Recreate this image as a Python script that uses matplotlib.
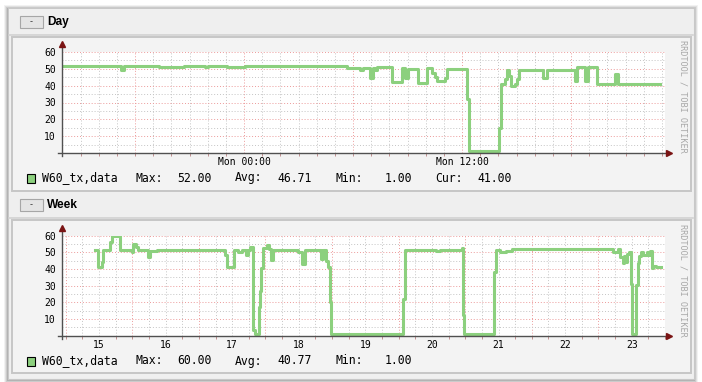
import numpy as np
import matplotlib.pyplot as plt
from matplotlib.patches import Rectangle

# ---- data ----
# Day graph: x in hours relative to Mon 00:00
day_hours = [-10.0, -6.8, -6.6, -4.7, -3.3, -2.15, -2.0, -0.95, 0.05, 5.67,
             6.38, 6.55, 6.93, 7.12, 7.21, 7.32, 8.15, 8.70, 8.86, 9.03,
             9.58, 10.07, 10.35, 10.51, 10.62, 11.06, 11.17, 12.26, 12.36, 14.03,
             14.12, 14.36, 14.47, 14.58, 14.69, 14.91, 15.02, 15.13, 16.46, 16.68,
             18.22, 18.33, 18.77, 18.93, 19.43, 20.42, 20.58, 22.90]
day_values = [51.5, 49.5, 51.5, 51, 51.5, 51, 51.5, 51, 51.5, 50.6,
              49.6, 50.6, 44.7, 50.6, 49.6, 51.2, 42.2, 50.6, 44.7, 50,
              41.8, 50.6, 47.6, 45, 42.5, 44.7, 50, 32, 1, 15,
              41, 44, 49.6, 46, 40, 41, 44, 49.6, 44.3, 49.6,
              43, 51.2, 43, 51.2, 41, 47.2, 41, 41]
day_xlim = (-10.02, 23.17)
day_label_pos = [0, 12]
day_labels = ["Mon 00:00", "Mon 12:00"]

# Week graph: x in day of month
week_days = [15.44, 15.49, 15.54, 15.56, 15.665, 15.69, 15.815, 15.995, 16.01, 16.055,
             16.09, 16.235, 16.265, 16.365, 17.39, 17.42, 17.52, 17.59, 17.65, 17.71,
             17.74, 17.77, 17.81, 17.84, 17.90, 17.92, 17.94, 17.96, 18.02, 18.05,
             18.08, 18.12, 18.49, 18.55, 18.59, 18.83, 18.87, 18.91, 18.94, 18.97,
             18.98, 20.07, 20.09, 20.56, 20.62, 20.95, 20.96, 20.985, 21.435, 21.455,
             21.52, 21.605, 21.70, 23.218, 23.293, 23.323, 23.368, 23.39, 23.413, 23.435,
             23.458, 23.483, 23.498, 23.563, 23.588, 23.613, 23.638, 23.668, 23.723, 23.747,
             23.773, 23.798, 23.818, 23.863, 23.934]
week_values = [51.5, 41, 44.5, 51.5, 56, 60, 51.5, 50, 55, 53,
               51.5, 47.5, 51, 51.5, 48.5, 41, 51.5, 50, 51.5, 48.5,
               51.5, 53.5, 3.5, 1, 17.5, 27, 40.5, 52.5, 54.5, 52,
               45.5, 51.5, 50.5, 43, 51.5, 46, 51.5, 45, 41, 20.5,
               1, 22, 51.5, 51, 51.5, 52.5, 12.5, 1, 38, 51.5,
               50, 51, 51.8, 50.5, 51.8, 47.4, 43.5, 48, 44, 49,
               50, 31, 1, 30.5, 43.5, 48, 50, 48.5, 50, 48.5,
               51, 40.5, 42, 41, 41]
week_xlim = (14.944, 24.0)
week_label_pos = [15.5, 16.5, 17.5, 18.5, 19.5, 20.5, 21.5, 22.5, 23.5]
week_labels = ["15", "16", "17", "18", "19", "20", "21", "22", "23"]

y_ticks = [10, 20, 30, 40, 50, 60]
series_name = "W60_tx,data"
day_stats = [("Max:", "52.00"), ("Avg:", "46.71"), ("Min:", "1.00"), ("Cur:", "41.00")]
week_stats = [("Max:", "60.00"), ("Avg:", "40.77"), ("Min:", "1.00")]

# ---- style ----
W, H = 702, 382
LINE = '#8cd07e'
MONO = 'DejaVu Sans Mono'
GRID_MINOR = '#c4c4c4'
GRID_MAJOR = '#ec9a9a'
AXIS = '#505050'
ARROW = '#7a1414'

fig = plt.figure(figsize=(W / 100, H / 100), dpi=100)
fig.patch.set_facecolor('white')

bg = fig.add_axes([0, 0, 1, 1], zorder=0)
bg.set_xlim(0, W)
bg.set_ylim(H, 0)
bg.axis('off')

# outer panel with soft shadow
for g, a in [(4, 0.05), (3, 0.07), (2, 0.09), (1, 0.12)]:
    bg.add_patch(Rectangle((8 - g, 8 - g + 1), 686 + 2 * g, 371 + 2 * g,
                           fc='#000000', ec='none', alpha=a))
bg.add_patch(Rectangle((8, 8), 686, 371, fc='#f0f0f0', ec='#c8c8c8', lw=0.8))


def header(y0, y1, title):
    bg.add_patch(Rectangle((9, y0), 684, y1 - y0, fc='#efefef', ec='none'))
    bg.plot([9, 693], [y1, y1], color='#d2d2d2', lw=1.2)
    bg.add_patch(Rectangle((20, (y0 + y1) / 2 - 6), 23, 12, fc='#e4e4e4', ec='#a6a6a6', lw=0.8))
    bg.text(31.5, (y0 + y1) / 2, "-", fontsize=6, ha='center', va='center', color='#333333')
    bg.text(47, (y0 + y1) / 2, title, fontsize=8.6, fontweight='bold', family='Liberation Sans',
            ha='left', va='center', color='black')


def graph_box(y0, y1):
    bg.add_patch(Rectangle((12, y0), 679, y1 - y0, fc='#f3f3f3', ec='#c6c6c6', lw=1.4))


header(9, 35, "Day")
graph_box(37, 191)
header(192, 218, "Week")
graph_box(220, 373)


def px_rect(x0, y0, x1, y1):
    return [x0 / W, 1 - y1 / H, (x1 - x0) / W, (y1 - y0) / H]


def draw_graph(rect, xs, ys, xlim, minor_x, major_x, label_pos, labels, wm_y):
    ax = fig.add_axes(rect, zorder=1)
    ax.set_facecolor('white')
    ax.set_xlim(*xlim)
    ax.set_ylim(0, 60)
    for s in ax.spines.values():
        s.set_visible(False)

    for gx in minor_x:
        ax.axvline(gx, color=GRID_MINOR, lw=0.7, ls=(0, (1, 2)), zorder=1)
    for gx in major_x:
        ax.axvline(gx, color=GRID_MAJOR, lw=0.7, ls=(0, (1, 2)), zorder=1)
    for gy in np.arange(5, 60, 10):
        ax.axhline(gy, color=GRID_MINOR, lw=0.7, ls=(0, (1, 2)), zorder=1)
    for gy in np.arange(10, 61, 10):
        ax.axhline(gy, color=GRID_MAJOR, lw=0.7, ls=(0, (1, 2)), zorder=1)

    ax.step(xs, ys, where='post', color=LINE, lw=2.2, zorder=3)

    ax.set_xticks(label_pos)
    ax.set_xticklabels(labels, family=MONO, fontsize=7)
    ax.set_xticks(list(minor_x) + list(major_x), minor=True)
    ax.tick_params(axis='x', which='major', length=0, pad=3)
    ax.tick_params(axis='x', which='minor', length=2.5, color='#c09090', width=0.7)
    ax.set_yticks(y_ticks)
    ax.set_yticklabels([str(v) for v in y_ticks], family=MONO, fontsize=7)
    ax.tick_params(axis='y', length=0, pad=4.3)

    # axes with arrows
    ax.plot([-0.006, 1.006], [0, 0], transform=ax.transAxes, color=AXIS, lw=1, clip_on=False, zorder=4)
    ax.plot([0, 0], [-0.03, 1.07], transform=ax.transAxes, color=AXIS, lw=1, clip_on=False, zorder=4)
    ax.plot([1.006], [0], marker='>', ms=4.5, color=ARROW, transform=ax.transAxes, clip_on=False, zorder=5)
    ax.plot([0], [1.075], marker='^', ms=4.5, color=ARROW, transform=ax.transAxes, clip_on=False, zorder=5)

    bg.text(683, wm_y, "RRDTOOL / TOBI OETIKER", rotation=270, family=MONO, fontsize=6.1,
            color='#a8a8a8', ha='center', va='center')
    return ax


draw_graph(px_rect(62, 52, 665, 153), day_hours, day_values, day_xlim,
           [h for h in range(-9, 24) if h % 6 != 0], [h for h in range(-6, 24, 6)],
           day_label_pos, day_labels, 96)
draw_graph(px_rect(62, 235.7, 665, 335.7), week_days, week_values, week_xlim,
           [d for d in np.arange(15.0, 24.0, 0.25) if d % 1 != 0], list(range(15, 25)),
           week_label_pos, week_labels, 280)


def legend(yc, stats):
    bg.add_patch(Rectangle((27, yc - 4.5), 8, 9, fc=LINE, ec='black', lw=0.8))
    bg.text(42, yc, series_name, family=MONO, fontsize=8.3, ha='left', va='center')
    for i, (lab, val) in enumerate(stats):
        bg.text(135 + 100 * i, yc, lab, family=MONO, fontsize=8.3, ha='left', va='center')
        bg.text(212 + 100 * i, yc, val, family=MONO, fontsize=8.3, ha='right', va='center')


legend(178, day_stats)
legend(361, week_stats)

fig.savefig('out.png', dpi=100)
